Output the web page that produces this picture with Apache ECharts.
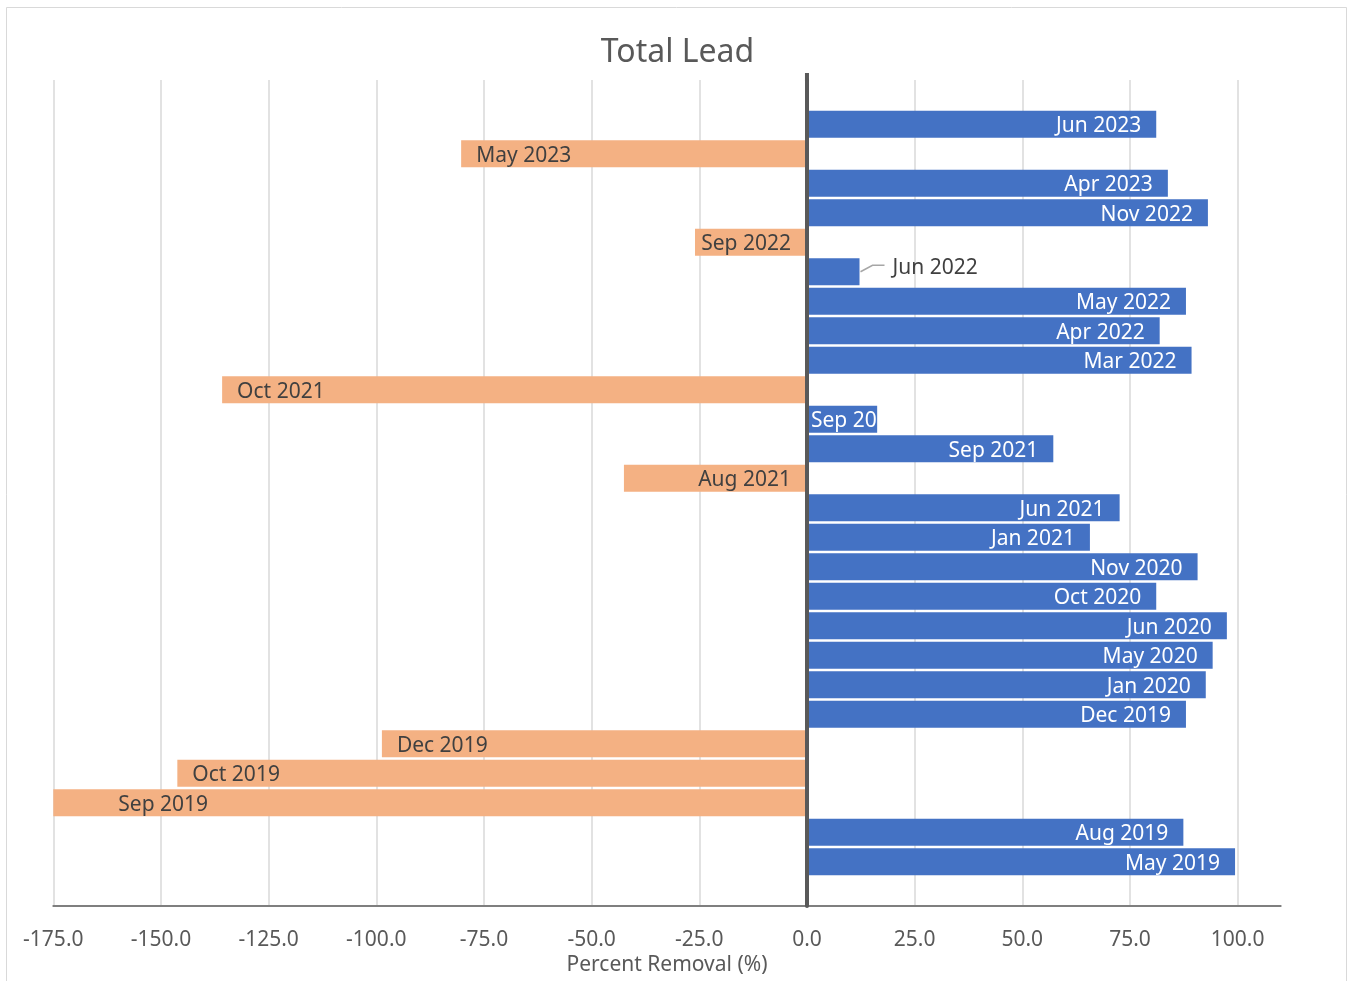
<!DOCTYPE html>
<html>
<head>
<meta charset="utf-8">
<title>Total Lead</title>
<script src="https://cdn.jsdelivr.net/npm/echarts@6/dist/echarts.min.js"></script>
<style>
  html, body { margin: 0; padding: 0; background: #ffffff; }
  #chart { width: 1355px; height: 981px; }
</style>
</head>
<body>
<div id="chart"></div>
<script>
// Sampling events, top to bottom
const categories = [
  'Jun 2023', 'May 2023', 'Apr 2023', 'Nov 2022', 'Sep 2022', 'Jun 2022',
  'May 2022', 'Apr 2022', 'Mar 2022', 'Oct 2021', 'Sep 2021', 'Sep 2021',
  'Aug 2021', 'Jun 2021', 'Jan 2021', 'Nov 2020', 'Oct 2020', 'Jun 2020',
  'May 2020', 'Jan 2020', 'Dec 2019', 'Dec 2019', 'Oct 2019', 'Sep 2019',
  'Aug 2019', 'May 2019'
];

// Percent removal of total lead for each event
const removal = [
  81.1, -80.3, 83.8, 93.1, -26.0, 12.2,
  88.0, 81.9, 89.3, -135.8, 16.3, 57.2,
  -42.5, 72.6, 65.7, 90.7, 81.1, 97.5,
  94.2, 92.6, 88.0, -98.7, -146.2, -175.0,
  87.4, 99.4
];

// Value axis ticks
const xMin = -175;
const xMax = 110;
const xStep = 25;

const BLUE = '#4472C4';
const ORANGE = '#F4B183';
const TEXT = '#595959';
const FONT = '"Noto Sans", "DejaVu Sans", sans-serif';
const FS = 21;

// One empty slot above and below the bars
const axisCats = [''].concat(categories, ['']);
const padded = [null].concat(removal, [null]);

const shortIdx = 6;          // Jun 2022: label outside with a leader line
const clipIdx = 11;          // first Sep 2021: label clipped at the bar end
const baseIdx = [5, 13];     // Sep 2022, Aug 2021: label next to the zero line
const farIdx = 24;           // Sep 2019: label set in from the bar end

const seriesData = padded.map(function (v, i) {
  if (v === null) return { value: null };
  const pos = v >= 0;
  const item = {
    value: v,
    itemStyle: { color: pos ? BLUE : ORANGE },
    label: {
      position: pos ? 'insideRight' : 'insideLeft',
      distance: 15,
      color: pos ? '#ffffff' : '#404040'
    }
  };
  if (baseIdx.indexOf(i) >= 0) {
    item.label = { position: 'insideRight', distance: 16, color: '#404040' };
  }
  if (i === farIdx) {
    item.label = { position: 'insideLeft', distance: 65, color: '#404040' };
  }
  if (i === shortIdx) {
    item.label = { position: 'right', distance: 5, color: '#404040' };
  }
  if (i === clipIdx) {
    item.label = {
      position: 'insideLeft', distance: 4, color: '#ffffff',
      width: 70, overflow: 'truncate', ellipsis: ''
    };
  }
  return item;
});

const chart = echarts.init(document.getElementById('chart'), null, { renderer: 'canvas' });

chart.setOption({
  backgroundColor: '#ffffff',
  animation: false,
  textStyle: { fontFamily: FONT },
  title: {
    text: 'Total Lead',
    left: 'center',
    top: 37,
    padding: 0,
    textStyle: { color: TEXT, fontSize: 32, fontWeight: 'normal', fontFamily: FONT }
  },
  grid: { left: 53.3, right: 74.3, top: 80, height: 827, containLabel: false },
  xAxis: {
    type: 'value',
    min: xMin,
    max: xMax,
    interval: xStep,
    name: 'Percent Removal (%)',
    nameLocation: 'middle',
    nameGap: 46,
    nameTextStyle: { color: TEXT, fontSize: FS, fontFamily: FONT },
    axisLine: { show: true, lineStyle: { color: '#7f7f7f', width: 2 } },
    axisTick: { show: false },
    axisLabel: {
      color: TEXT,
      fontSize: FS,
      margin: 23,
      showMaxLabel: false,
      fontFamily: FONT,
      formatter: function (v) { return v % xStep === 0 ? v.toFixed(1) : ''; }
    },
    splitLine: {
      show: true,
      showMaxLine: false,
      lineStyle: { color: '#d9d9d9', width: 1.5 }
    }
  },
  yAxis: {
    type: 'category',
    inverse: true,
    data: axisCats,
    z: 5,
    axisLine: { show: true, onZero: true, lineStyle: { color: '#595959', width: 4 } },
    axisTick: { show: false },
    axisLabel: { show: false },
    splitLine: { show: false }
  },
  series: [{
    type: 'bar',
    data: seriesData,
    barCategoryGap: '8.5%',
    label: {
      show: true,
      fontSize: FS,
      fontFamily: FONT,
      formatter: function (p) { return axisCats[p.dataIndex]; }
    },
    labelLayout: function (p) {
      if (p.dataIndex === shortIdx) return { dx: 28, dy: -4 };
      return { dy: 2 };
    }
  }]
});

// Chart frame and the leader line of the outside label, placed from the data
const endPt = chart.convertToPixel({ gridIndex: 0 }, [padded[shortIdx], shortIdx]);
const zeroTop = chart.convertToPixel({ gridIndex: 0 }, [0, 0]);
chart.setOption({
  graphic: [
    {
      type: 'rect',
      shape: { x: 6.5, y: 7.5, width: 1340, height: 990 },
      style: { fill: null, stroke: '#d9d9d9', lineWidth: 1 },
      silent: true,
      z: -10
    },
    {
      type: 'polyline',
      shape: {
        points: [
          [endPt[0] + 1, endPt[1]],
          [endPt[0] + 13, endPt[1] - 6.5],
          [endPt[0] + 25, endPt[1] - 6.5]
        ]
      },
      style: { fill: null, stroke: '#a6a6a6', lineWidth: 1.5 },
      silent: true,
      z: 10
    },
    {
      // zero line reaches slightly above the plot area
      type: 'line',
      shape: { x1: zeroTop[0], y1: 73, x2: zeroTop[0], y2: 81 },
      style: { stroke: '#595959', lineWidth: 4 },
      silent: true,
      z: 10
    }
  ]
});
</script>
</body>
</html>
